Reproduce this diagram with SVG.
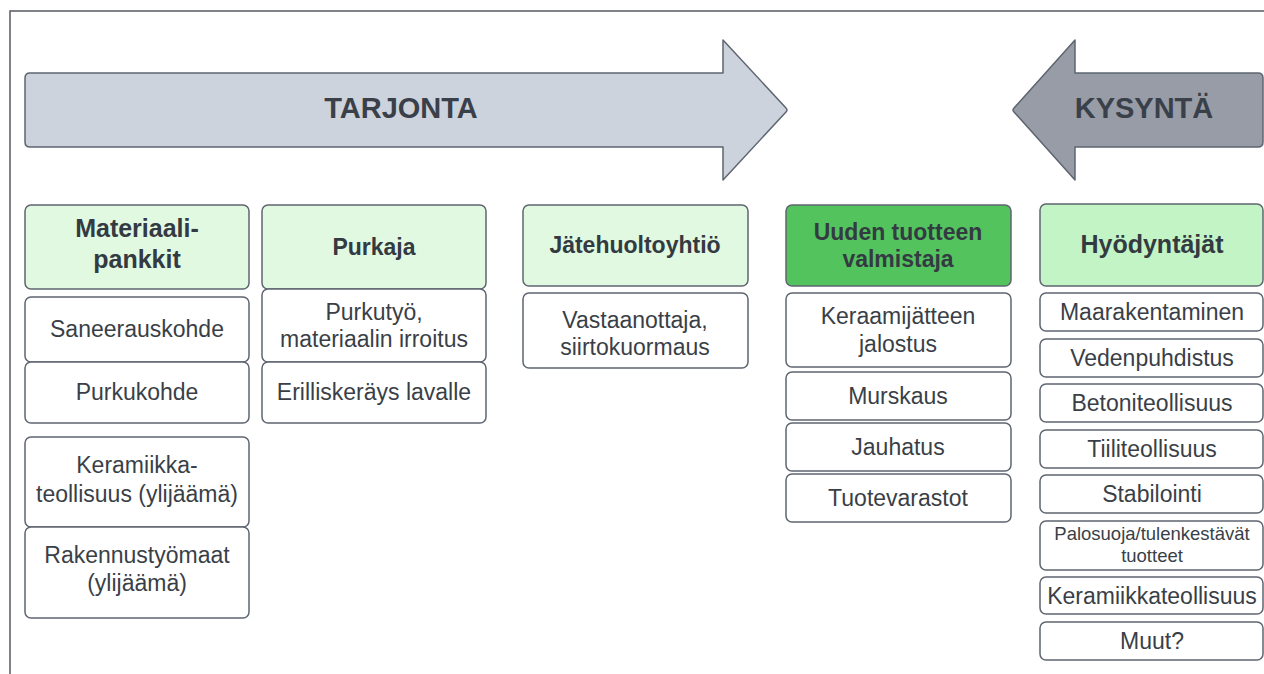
<svg xmlns="http://www.w3.org/2000/svg" width="1264" height="674" viewBox="0 0 1264 674">
  <style>
    text { font-family: "Liberation Sans", Arial, sans-serif; text-anchor: middle; }
    .frame { fill: none; stroke: #555a60; stroke-width: 1.5; }
    .arrow-supply { fill: #cdd3dc; stroke: #5e6570; stroke-width: 1.5; stroke-linejoin: round; }
    .arrow-demand { fill: #979ca6; stroke: #5e6570; stroke-width: 1.5; stroke-linejoin: round; }
    .arrow-label { font-size: 29px; font-weight: bold; fill: #3a4049; }
    .box { fill: #ffffff; stroke: #5f6670; stroke-width: 1.5; }
    .hdr-light { fill: #e1f8e1; stroke: #5f6670; stroke-width: 1.5; }
    .hdr-mid { fill: #c3f4c5; stroke: #5f6670; stroke-width: 1.5; }
    .hdr-strong { fill: #53c35e; stroke: #5f6670; stroke-width: 1.5; }
    .hdr { font-size: 23px; font-weight: bold; fill: #333a42; }
    .hdr-lg { font-size: 25px; font-weight: bold; fill: #333a42; }
    .item { font-size: 23px; fill: #3a3f47; }
    .small { font-size: 18.5px; fill: #3a3f47; }
  </style>

  <!-- outer frame: top and left edges -->
  <path class="frame" d="M10,674 V11 H1264"/>

  <!-- big direction arrows -->
  <g id="tarjonta">
    <path class="arrow-supply" d="M30,73 H723 V40 L786,108 Q788,110 786,112 L723,180 V147 H30 Q25,147 25,142 V78 Q25,73 30,73 Z"/>
    <text class="arrow-label" x="401" y="118">TARJONTA</text>
  </g>
  <g id="kysynta">
    <path class="arrow-demand" d="M1014,108 L1075,40 V73 H1258 Q1263,73 1263,78 V142 Q1263,147 1258,147 H1075 V180 L1014,112 Q1012,110 1014,108 Z"/>
    <text class="arrow-label" x="1144" y="118">KYSYNTÄ</text>
  </g>

  <!-- column 1: material banks -->
  <g id="materiaalipankit">
    <rect class="hdr-light" x="25" y="205" width="224" height="84" rx="6"/>
    <text class="hdr-lg" x="137" y="237">Materiaali-</text>
    <text class="hdr-lg" x="137" y="268">pankkit</text>
  </g>
  <g id="saneerauskohde">
    <rect class="box" x="25" y="297" width="224" height="65" rx="6"/>
    <text class="item" x="137" y="337">Saneerauskohde</text>
  </g>
  <g id="purkukohde">
    <rect class="box" x="25" y="362" width="224" height="61" rx="6"/>
    <text class="item" x="137" y="400">Purkukohde</text>
  </g>
  <g id="keramiikkateollisuus-ylijaama">
    <rect class="box" x="25" y="437" width="224" height="90" rx="6"/>
    <text class="item" x="137" y="473">Keramiikka-</text>
    <text class="item" x="137" y="502">teollisuus (ylijäämä)</text>
  </g>
  <g id="rakennustyomaat">
    <rect class="box" x="25" y="527" width="224" height="91" rx="6"/>
    <text class="item" x="137" y="563">Rakennustyömaat</text>
    <text class="item" x="137" y="591">(ylijäämä)</text>
  </g>

  <!-- column 2: demolition contractor -->
  <g id="purkaja">
    <rect class="hdr-light" x="262" y="205" width="224" height="84" rx="6"/>
    <text class="hdr" x="374" y="255">Purkaja</text>
  </g>
  <g id="purkutyo">
    <rect class="box" x="262" y="289" width="224" height="73" rx="6"/>
    <text class="item" x="374" y="320">Purkutyö,</text>
    <text class="item" x="374" y="347">materiaalin irroitus</text>
  </g>
  <g id="erilliskerays">
    <rect class="box" x="262" y="362" width="224" height="61" rx="6"/>
    <text class="item" x="374" y="400">Erilliskeräys lavalle</text>
  </g>

  <!-- column 3: waste management -->
  <g id="jatehuoltoyhtio">
    <rect class="hdr-light" x="523" y="205" width="225" height="81" rx="6"/>
    <text class="hdr" x="635" y="253">Jätehuoltoyhtiö</text>
  </g>
  <g id="vastaanottaja">
    <rect class="box" x="523" y="293" width="225" height="75" rx="6"/>
    <text class="item" x="635" y="328">Vastaanottaja,</text>
    <text class="item" x="635" y="355">siirtokuormaus</text>
  </g>

  <!-- column 4: new product manufacturer -->
  <g id="valmistaja">
    <rect class="hdr-strong" x="786" y="205" width="225" height="81" rx="6"/>
    <text class="hdr" x="898" y="240">Uuden tuotteen</text>
    <text class="hdr" x="898" y="267">valmistaja</text>
  </g>
  <g id="jalostus">
    <rect class="box" x="786" y="293" width="225" height="74" rx="6"/>
    <text class="item" x="898" y="324">Keraamijätteen</text>
    <text class="item" x="898" y="352">jalostus</text>
  </g>
  <g id="murskaus">
    <rect class="box" x="786" y="372" width="225" height="48" rx="6"/>
    <text class="item" x="898" y="404">Murskaus</text>
  </g>
  <g id="jauhatus">
    <rect class="box" x="786" y="423" width="225" height="48" rx="6"/>
    <text class="item" x="898" y="455">Jauhatus</text>
  </g>
  <g id="tuotevarastot">
    <rect class="box" x="786" y="474" width="225" height="48" rx="6"/>
    <text class="item" x="898" y="506">Tuotevarastot</text>
  </g>

  <!-- column 5: end users -->
  <g id="hyodyntajat">
    <rect class="hdr-mid" x="1040" y="204" width="223" height="82" rx="6"/>
    <text class="hdr-lg" x="1152" y="253">Hyödyntäjät</text>
  </g>
  <g id="maarakentaminen">
    <rect class="box" x="1040" y="293" width="223" height="38" rx="6"/>
    <text class="item" x="1152" y="320">Maarakentaminen</text>
  </g>
  <g id="vedenpuhdistus">
    <rect class="box" x="1040" y="339" width="223" height="38" rx="6"/>
    <text class="item" x="1152" y="366">Vedenpuhdistus</text>
  </g>
  <g id="betoniteollisuus">
    <rect class="box" x="1040" y="384" width="223" height="38" rx="6"/>
    <text class="item" x="1152" y="411">Betoniteollisuus</text>
  </g>
  <g id="tiiliteollisuus">
    <rect class="box" x="1040" y="430" width="223" height="38" rx="6"/>
    <text class="item" x="1152" y="457">Tiiliteollisuus</text>
  </g>
  <g id="stabilointi">
    <rect class="box" x="1040" y="475" width="223" height="38" rx="6"/>
    <text class="item" x="1152" y="502">Stabilointi</text>
  </g>
  <g id="palosuoja">
    <rect class="box" x="1040" y="521" width="223" height="49" rx="6"/>
    <text class="small" x="1152" y="540">Palosuoja/tulenkestävät</text>
    <text class="small" x="1152" y="562">tuotteet</text>
  </g>
  <g id="keramiikkateollisuus">
    <rect class="box" x="1040" y="577" width="223" height="37" rx="6"/>
    <text class="item" x="1152" y="604">Keramiikkateollisuus</text>
  </g>
  <g id="muut">
    <rect class="box" x="1040" y="622" width="223" height="38" rx="6"/>
    <text class="item" x="1152" y="649">Muut?</text>
  </g>

  <!-- no connectors between nodes -->
  <g id="connectors"/>
</svg>
